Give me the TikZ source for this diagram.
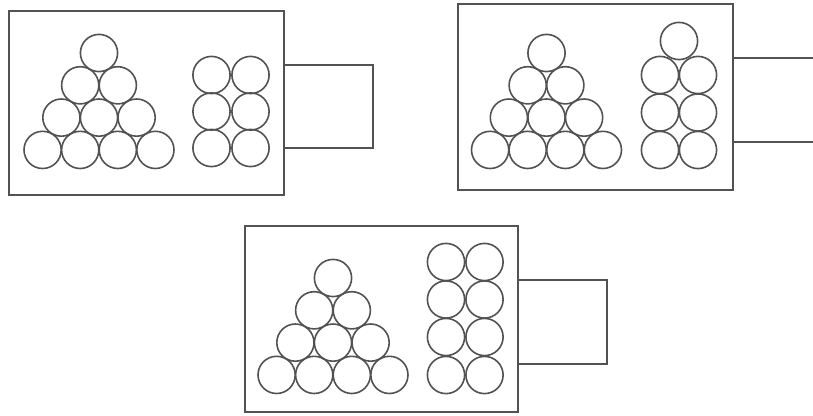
\documentclass[tikz,border=0pt]{standalone}
\begin{document}
\begin{tikzpicture}[x=1pt,y=-1pt,
  ln/.style={draw=black!68,line width=1.7pt},
  ball/.style={draw=black!68,line width=1.6pt}]
\useasboundingbox (0,0) rectangle (813,415);
\def\r{18.6}
% triangle of 10 balls: #1 = centre x, #2 = top row y
\newcommand\balltri[2]{%
  \foreach \i in {0,1,2,3}{%
    \foreach \j in {0,...,\i}{%
      \draw[ball] ({#1+(\j-\i/2)*37.6},{#2+\i*32.3}) circle (\r);
    }%
  }%
}
% grid: #1,#2 = column x, #3 = list of row y
\newcommand\ballgrid[3]{%
  \foreach \yy in {#3}{%
    \draw[ball] (#1,\yy) circle (\r);
    \draw[ball] (#2,\yy) circle (\r);
  }%
}
% ---- box 1
\draw[ln] (9,11) rectangle (284,195);
\draw[ln] (284,65) -- (373,65) -- (373,148) -- (284,148);
\balltri{99}{53}
\ballgrid{211.5}{250.5}{75,111.5,148}
% ---- box 2
\draw[ln] (458,4) rectangle (733,190);
\draw[ln] (733,58) -- (813,58);
\draw[ln] (733,142) -- (813,142);
\balltri{546.5}{53}
\ballgrid{660}{698}{75,112.5,150}
\draw[ball] (679,41) circle (\r);
% ---- box 3
\draw[ln] (245,226) rectangle (518,412);
\draw[ln] (518,280) -- (607,280) -- (607,364) -- (518,364);
\balltri{333}{278}
\ballgrid{446}{484.5}{262,299.5,337,375}
\end{tikzpicture}
\end{document}
